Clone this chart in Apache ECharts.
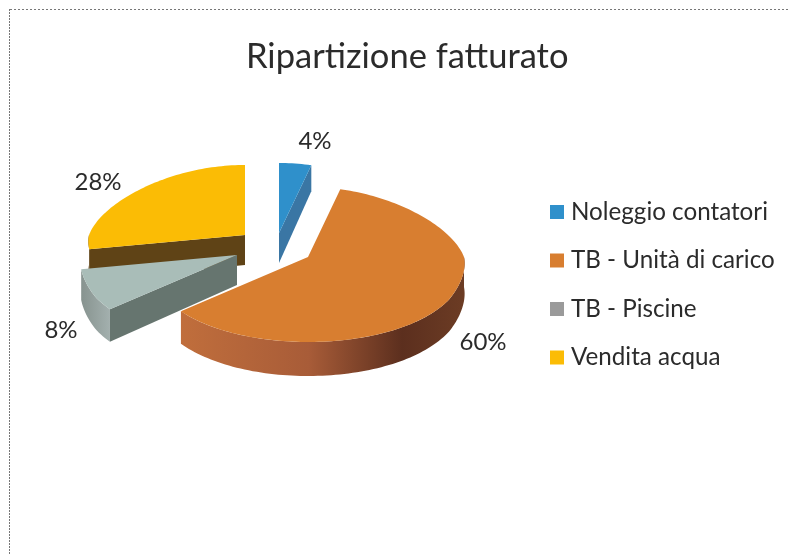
<!DOCTYPE html>
<html>
<head>
<meta charset="utf-8">
<style>html,body{margin:0;padding:0;background:#fff}#c{width:788px;height:554px}</style>
<script src="https://cdn.jsdelivr.net/npm/echarts@6/dist/echarts.min.js"></script>
</head>
<body>
<div id="c"></div>
<script>
const chartTitle = 'Ripartizione fatturato';
const categories = ['Noleggio contatori', 'TB - Unità di carico', 'TB - Piscine', 'Vendita acqua'];
const values = [4, 60, 8, 28];

// Layout and look of each exploded slice (same order as categories)
const apex = [[279, 233], [308, 257], [237, 255], [245, 235]];
const labelAt = [[315, 141], [483, 342], [61, 330], [98, 182]];
const zOrder = [2, 5, 4, 3];
const topColor = ['#2f90cb', '#d87e30', '#a9bdb8', '#fbbc05'];
const legendColor = ['#2f90cb', '#d87e30', '#9a9a9a', '#fbbc05'];
const sideColor = ['#3a76a4', '#b5623a', '#66756f', '#5f4316'];
const rimStops = [
  [[0, '#3a76a4'], [1, '#3a76a4']],
  [[0, '#c06e3c'], [0.45, '#a85c38'], [0.78, '#5c2f1e'], [1, '#6c3c24']],
  [[0, '#87938f'], [1, '#a3b0ae']],
  [[0, '#5f4316'], [1, '#5f4316']]
];

const total = values.reduce((a, b) => a + b, 0);
const rad = d => d * Math.PI / 180;

// Tilted, perspective-like projection of a rim point, relative to the apex
function rim(ap, deg, depth) {
  const u = Math.sin(rad(deg)), v = Math.cos(rad(deg));
  const rx = v > 0 ? 156 - 27 * v : 156 - 14 * v;
  const ry = v > 0 ? 70 : 70 + 15 * Math.min(1, -v / 0.5);
  const d = depth ? 30 - 4 * v : 0;
  return [ap[0] + rx * u, ap[1] - ry * v + d];
}
function arc(ap, a0, a1, depth) {
  const pts = [], n = Math.max(2, Math.ceil(Math.abs(a1 - a0) / 1.5));
  for (let i = 0; i <= n; i++) pts.push(rim(ap, a0 + (a1 - a0) * i / n, depth));
  return pts;
}

function makeRender(idx) {
  return function (params, api) {
    const val = api.value(0);
    let before = 0;
    for (let i = 0; i < idx; i++) before += values[i];
    const a0 = before / total * 360, a1 = (before + val) / total * 360;
    const ap = apex[idx], apBottom = [ap[0], ap[1] + 30];
    const children = [];

    // outer curved wall, on the part of the rim that faces the viewer
    const w0 = Math.max(a0, 90), w1 = Math.min(a1, 270);
    if (w1 > w0) {
      children.push({
        type: 'polygon',
        shape: { points: arc(ap, w0, w1, false).concat(arc(ap, w1, w0, true)) },
        style: {
          fill: {
            type: 'linear', x: 0, y: 0, x2: 1, y2: 0,
            colorStops: rimStops[idx].map(s => ({ offset: s[0], color: s[1] }))
          }
        }
      });
    }
    // flat cut faces turned towards the viewer
    const cut = deg => ({
      type: 'polygon',
      shape: { points: [ap, rim(ap, deg, false), rim(ap, deg, true), apBottom] },
      style: { fill: sideColor[idx] }
    });
    if (a1 > 0 && a1 < 180) children.push(cut(a1));
    if (a0 > 180 && a0 < 360) children.push(cut(a0));
    // top face
    children.push({
      type: 'polygon',
      shape: { points: [ap].concat(arc(ap, a0, a1, false)) },
      style: { fill: topColor[idx] }
    });
    // percentage label
    children.push({
      type: 'text',
      style: {
        x: labelAt[idx][0], y: labelAt[idx][1],
        text: Math.round(val / total * 100) + '%',
        fill: '#2b2b2b', font: '24px Lato', align: 'center', verticalAlign: 'middle'
      }
    });
    return { type: 'group', children };
  };
}

const chart = echarts.init(document.getElementById('c'), null, { renderer: 'canvas' });
chart.setOption({
  animation: false,
  backgroundColor: '#ffffff',
  title: {
    text: chartTitle, left: 241, top: 34,
    textStyle: { fontFamily: 'Lato', fontWeight: 'normal', fontSize: 34.5, color: '#2b2b2b' }
  },
  legend: {
    orient: 'vertical', left: 545, top: 192,
    data: categories, selectedMode: false, icon: 'rect',
    itemWidth: 14, itemHeight: 14, itemGap: 18.5,
    textStyle: { fontFamily: 'Lato', fontSize: 24.2, color: '#2b2b2b', padding: [0, 0, 0, 2], lineHeight: 30, height: 30 }
  },
  graphic: [
    { type: 'line', silent: true, shape: { x1: 10, y1: 9.5, x2: 788, y2: 9.5 }, style: { stroke: '#777', lineWidth: 1, lineDash: [2, 2] } },
    { type: 'line', silent: true, shape: { x1: 9.5, y1: 9, x2: 9.5, y2: 554 }, style: { stroke: '#777', lineWidth: 1, lineDash: [2, 1] } }
  ],
  series: categories.map((name, i) => ({
    type: 'custom',
    name,
    coordinateSystem: 'none',
    z: zOrder[i],
    itemStyle: { color: legendColor[i] },
    data: [[values[i]]],
    renderItem: makeRender(i)
  }))
});
</script>
</body>
</html>
